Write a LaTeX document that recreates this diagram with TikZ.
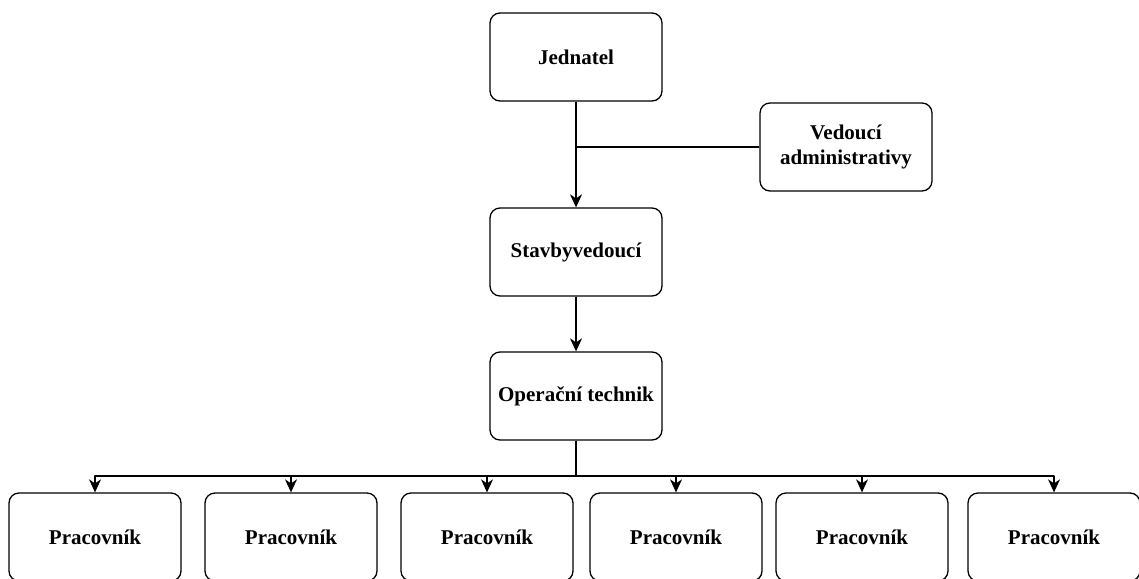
\documentclass[tikz,border=0pt]{standalone}
\usepackage{fontspec}
\setmainfont{Liberation Serif}
\usetikzlibrary{arrows.meta}
\tikzset{
  role/.style={draw, line width=1.3pt, rounded corners=10pt, minimum width=172pt, minimum height=88pt, align=center, font=\bfseries\fontsize{21}{25}\selectfont},
  link/.style={line width=1.3pt}
}
\begin{document}
\begin{tikzpicture}[x=1pt, y=-1pt, line join=round, >={Stealth[length=13pt,width=12pt,inset=4pt]}]
	\useasboundingbox (0,0) rectangle (1139,578);
	\node[role] (jd) at (576,57) {Jednatel};
	\node[role] (va) at (846,147) {Vedoucí\\administrativy};
	\node[role] (sv) at (576,252) {Stavbyvedoucí};
	\node[role] (ot) at (576,396) {Operační technik};
	\foreach \i/\x in {1/95, 2/291, 3/487, 4/676, 5/862, 6/1054}
		\node[role] (p\i) at (\x,537) {Pracovník};
	\draw[link,->] (jd.south) -- (sv.north);
	\draw[link] (va.west) -- (va.west -| jd.south);
	\draw[link,->] (sv.south) -- (ot.north);
	\coordinate (fork) at (576,476);
	\draw[link] (ot.south) -- (fork);
	\foreach \i in {1,...,6} \draw[link,->] (fork) -| (p\i.north);
\end{tikzpicture}
\end{document}
